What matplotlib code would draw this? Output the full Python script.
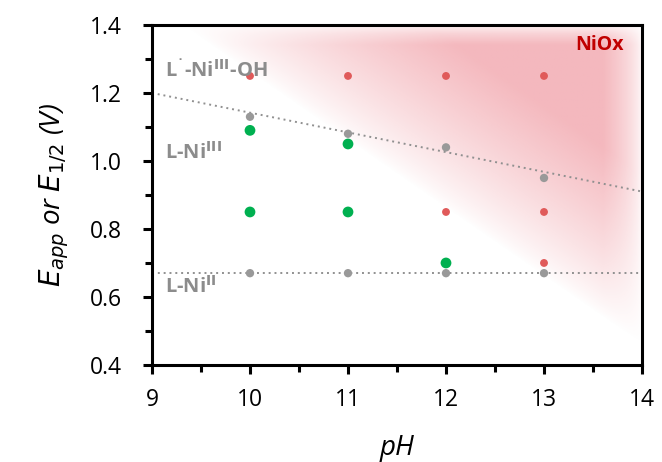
import numpy as np
import matplotlib.pyplot as plt
from matplotlib.colors import to_rgb

plt.rcParams['font.family'] = ['Open Sans', 'DejaVu Sans']

# данные
red_ph = [10, 11, 12, 13, 12, 13, 13]
red_e = [1.25, 1.25, 1.25, 1.25, 0.85, 0.85, 0.70]
gray_ph = [10, 11, 12, 13, 10, 11, 12, 13]
gray_e = [1.13, 1.08, 1.04, 0.95, 0.67, 0.67, 0.67, 0.67]
green_ph = [10, 11, 10, 11, 12]
green_e = [1.09, 1.05, 0.85, 0.85, 0.70]
line_ph = [9, 14]
line_e = [1.20, 0.91]
e_ii = 0.67

fig = plt.figure(figsize=(6.62, 4.62), dpi=100)
ax = fig.add_axes([0.2296, 0.21, 0.7402, 0.736])

# розовый фон NiOx
xx, yy = np.meshgrid(np.linspace(9, 14, 400), np.linspace(0.4, 1.4, 300))
u = (xx - 9) / 5 + (yy - 0.4)
a = np.clip((u - 1.06) / 0.5, 0, 1) ** 0.8
a *= np.clip((14 - xx) / 0.4, 0, 1) ** 0.6
a *= np.clip((1.4 - yy) / 0.06, 0, 1) ** 0.6
img = np.zeros(xx.shape + (4,))
img[..., :3] = to_rgb('#f09aa2')
img[..., 3] = a * 0.7
ax.imshow(img, extent=[9, 14, 0.4, 1.4], origin='lower', aspect='auto', zorder=0)

ax.plot(line_ph, line_e, linestyle=(0, (1, 2)), color='#909090', linewidth=1.4, zorder=1)
ax.axhline(e_ii, linestyle=(0, (1, 2)), color='#909090', linewidth=1.4, zorder=1)

ax.scatter(red_ph, red_e, s=32, color='#e05a5a', edgecolors='none', zorder=3)
ax.scatter(gray_ph, gray_e, s=36, color='#999999', edgecolors='none', zorder=3)
ax.scatter(green_ph, green_e, s=60, color='#00b050', edgecolors='none', zorder=3)

tc = '#8c8c8c'
ax.text(9.13, 1.265, 'L$^{\\bf\u02d9}$-Ni$^{\\mathbf{III}}$-OH', color=tc, fontsize=14.5,
        fontweight='bold', va='center')
ax.text(9.13, 1.025, 'L-Ni$^{\\mathbf{III}}$', color=tc, fontsize=14.5, fontweight='bold', va='center')
ax.text(9.13, 0.63, 'L-Ni$^{\\mathbf{II}}$', color=tc, fontsize=14.5, fontweight='bold', va='center')
ax.text(13.57, 1.34, 'NiOx', color='#c00000', fontsize=14, fontweight='bold', ha='center', va='center')

ax.set_xlim(9, 14)
ax.set_ylim(0.4, 1.4)
ax.set_xticks([9, 10, 11, 12, 13, 14])
ax.set_xticks(np.arange(9.5, 14, 1), minor=True)
ax.set_yticks([0.4, 0.6, 0.8, 1.0, 1.2, 1.4])
ax.set_yticklabels(['0.4', '0.6', '0.8', '1.0', '1.2', '1.4'])
ax.set_yticks(np.arange(0.5, 1.4, 0.2), minor=True)
ax.tick_params(axis='both', which='both', direction='out', width=2.2, labelsize=16.5)
ax.tick_params(axis='both', which='major', length=6.5)
ax.tick_params(axis='both', which='minor', length=5)
ax.tick_params(axis='y', which='major', pad=15)
ax.tick_params(axis='x', which='major', pad=10)
for s in ax.spines.values():
    s.set_linewidth(2.2)

ax.set_xlabel('pH', fontsize=20, style='italic', labelpad=16)
ax.set_ylabel('$\\mathit{E_{app}}$ or $\\mathit{E_{1/2}}$ (V)', fontsize=20, style='italic', labelpad=14)

fig.savefig('out.png', dpi=100)
